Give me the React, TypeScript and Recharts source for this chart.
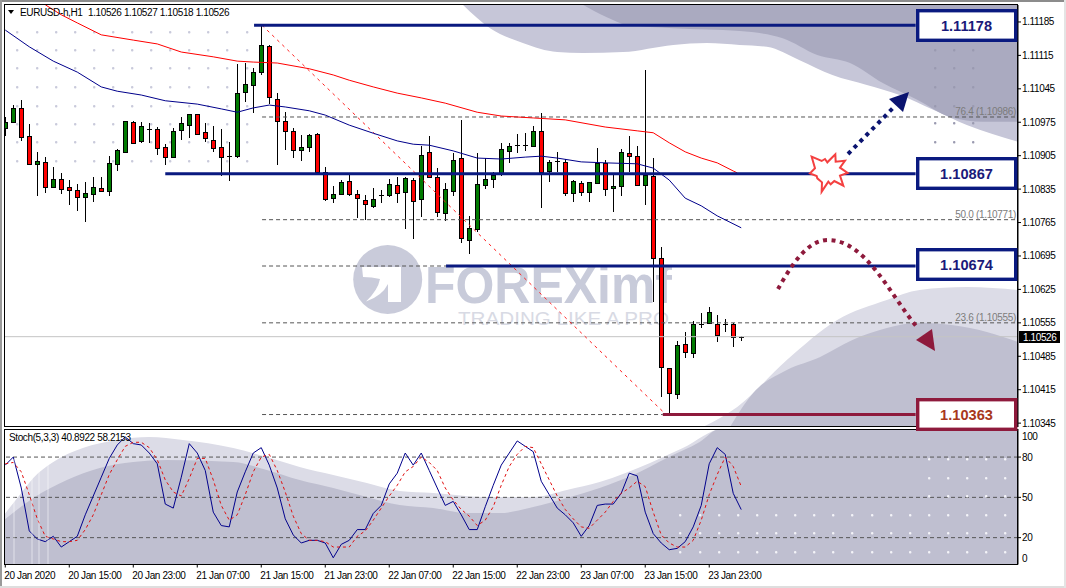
import { Area, Bar, ComposedChart, Line, ReferenceLine, XAxis, YAxis } from 'recharts';

const OPENS = [1.10963, 1.10976, 1.11005, 1.10946, 1.10888, 1.10892, 1.10839, 1.10856, 1.10839, 1.10833, 1.10818, 1.10825, 1.10837, 1.10831, 1.10888, 1.10913, 1.10976, 1.10936, 1.10959, 1.10961, 1.10923, 1.10902, 1.10959, 1.10969, 1.10992, 1.10955, 1.10938, 1.10923, 1.10902, 1.10904, 1.11038, 1.11053, 1.1108, 1.11135, 1.11024, 1.10978, 1.10957, 1.10917, 1.10923, 1.1095, 1.10871, 1.10816, 1.10825, 1.10852, 1.10825, 1.10812, 1.108, 1.10821, 1.10823, 1.10844, 1.10829, 1.10854, 1.10814, 1.10913, 1.1086, 1.10785, 1.10831, 1.109, 1.10728, 1.10751, 1.10844, 1.10856, 1.10867, 1.10915, 1.10925, 1.10925, 1.10925, 1.10957, 1.10873, 1.10892, 1.10892, 1.10827, 1.10848, 1.10829, 1.10848, 1.1089, 1.10837, 1.10842, 1.10911, 1.10904, 1.10844, 1.10862, 1.10691, 1.1046, 1.10406, 1.10511, 1.10492, 1.1055, 1.10555, 1.10553, 1.1055, 1.10553, 1.10526];
const HIGHS = [1.10986, 1.11011, 1.11022, 1.10971, 1.10913, 1.10902, 1.10881, 1.10869, 1.10854, 1.10846, 1.1085, 1.1086, 1.1086, 1.10904, 1.10919, 1.10978, 1.10978, 1.10976, 1.10973, 1.10965, 1.10929, 1.10963, 1.10986, 1.10992, 1.10992, 1.10973, 1.10967, 1.10961, 1.10934, 1.11097, 1.11099, 1.11089, 1.11177, 1.11137, 1.11036, 1.10996, 1.10963, 1.10948, 1.1095, 1.10953, 1.10881, 1.10842, 1.10854, 1.10865, 1.10833, 1.10823, 1.10837, 1.10833, 1.10856, 1.1086, 1.1086, 1.10858, 1.10925, 1.10946, 1.10879, 1.10848, 1.10911, 1.1098, 1.10779, 1.10911, 1.109, 1.10871, 1.10932, 1.10932, 1.1095, 1.10953, 1.10967, 1.10994, 1.10896, 1.10913, 1.10898, 1.10854, 1.10852, 1.1085, 1.10921, 1.10896, 1.10867, 1.10919, 1.10946, 1.10925, 1.11084, 1.109, 1.10714, 1.1046, 1.10517, 1.10536, 1.10559, 1.10576, 1.10588, 1.10571, 1.10563, 1.10555, 1.10527];
const LOWS = [1.10946, 1.10973, 1.10936, 1.10885, 1.10821, 1.10827, 1.10839, 1.10825, 1.10802, 1.10789, 1.10766, 1.10808, 1.10829, 1.10821, 1.10873, 1.10911, 1.10932, 1.10932, 1.10932, 1.10906, 1.10885, 1.10902, 1.10938, 1.10942, 1.10948, 1.10934, 1.10913, 1.10862, 1.10852, 1.109, 1.11017, 1.10994, 1.11074, 1.11013, 1.10885, 1.10917, 1.109, 1.10894, 1.10913, 1.10869, 1.1081, 1.10806, 1.10823, 1.10821, 1.10775, 1.1077, 1.10795, 1.10806, 1.10818, 1.10806, 1.10751, 1.10731, 1.10777, 1.10858, 1.10777, 1.10768, 1.10821, 1.10722, 1.10699, 1.10745, 1.10835, 1.10837, 1.10862, 1.1089, 1.10911, 1.10915, 1.10925, 1.10795, 1.1085, 1.10871, 1.10821, 1.10808, 1.10821, 1.10808, 1.10848, 1.10821, 1.10787, 1.10821, 1.10871, 1.10842, 1.10802, 1.10599, 1.104, 1.10363, 1.10395, 1.10481, 1.10481, 1.10544, 1.10553, 1.10515, 1.10536, 1.10504, 1.10518];
const CLOSES = [1.10976, 1.11005, 1.10944, 1.10888, 1.10894, 1.10839, 1.10856, 1.10835, 1.10833, 1.10818, 1.10827, 1.10839, 1.10831, 1.1089, 1.10917, 1.10978, 1.10932, 1.10967, 1.10961, 1.10921, 1.10902, 1.10957, 1.10973, 1.10992, 1.1095, 1.10942, 1.10921, 1.10902, 1.10904, 1.11036, 1.11055, 1.1108, 1.11137, 1.11028, 1.10978, 1.10957, 1.10917, 1.10923, 1.10948, 1.10871, 1.10814, 1.10825, 1.1085, 1.10825, 1.10816, 1.10804, 1.10814, 1.10823, 1.10846, 1.10827, 1.10858, 1.1081, 1.10906, 1.1086, 1.10787, 1.10835, 1.10896, 1.10733, 1.10754, 1.10846, 1.10856, 1.10865, 1.10919, 1.10925, 1.10927, 1.10927, 1.10957, 1.10871, 1.10892, 1.10894, 1.10827, 1.10852, 1.10829, 1.1085, 1.1089, 1.10835, 1.10842, 1.10913, 1.10904, 1.10844, 1.10865, 1.10691, 1.10463, 1.10408, 1.10509, 1.10494, 1.10553, 1.10553, 1.10578, 1.1053, 1.10553, 1.10525, 1.10526];

const STOCH_K = [74, 80, 57, 25, 19, 17, 21, 13, 17, 21, 37, 51, 65, 79, 89, 95, 90, 89, 83, 75, 45, 42, 65, 90, 83, 70, 39, 29, 28, 54, 69, 83, 87, 74, 57, 34, 22, 16, 18, 18, 16, 5, 15, 18, 26, 26, 38, 44, 60, 68, 83, 74, 83, 70, 57, 44, 47, 37, 26, 26, 43, 59, 74, 83, 92, 88, 84, 62, 52, 42, 37, 31, 21, 29, 44, 45, 45, 53, 68, 66, 39, 23, 16, 11, 12, 17, 28, 44, 75, 87, 82, 53, 40.89];
const STOCH_D = [75, 76, 69, 52, 34, 21, 19, 17, 17, 18, 26, 37, 52, 67, 78, 88, 91, 91, 87, 78, 63, 54, 51, 64, 79, 79, 63, 44, 33, 37, 52, 69, 80, 82, 70, 54, 36, 23, 18, 18, 17, 13, 13, 13, 21, 25, 33, 42, 51, 59, 69, 73, 80, 76, 70, 57, 48, 41, 36, 29, 33, 43, 59, 73, 82, 88, 87, 75, 63, 51, 41, 34, 28, 27, 33, 39, 47, 53, 57, 62, 58, 39, 22, 16, 13, 13, 18, 33, 52, 67, 80, 73, 58.22];

// moving averages, read where the line bends
const MA_BLUE_INDEX = [0, 3, 6, 9, 12, 14, 17, 20, 24, 27, 29, 31, 33, 35, 38, 40, 43, 46, 49, 51, 53, 56, 59, 62, 65, 67, 69, 72, 75, 79, 81, 83, 85, 87, 89, 92];
const MA_BLUE = [1.11168, 1.11133, 1.11103, 1.1108, 1.11049, 1.1104, 1.11032, 1.1102, 1.11013, 1.11003, 1.10996, 1.11005, 1.11011, 1.11007, 1.10999, 1.1099, 1.10969, 1.10952, 1.10936, 1.10929, 1.10927, 1.10915, 1.109, 1.10898, 1.10902, 1.10904, 1.109, 1.10892, 1.1089, 1.10888, 1.10879, 1.10854, 1.10816, 1.108, 1.10779, 1.10754];
const MA_RED_INDEX = [5, 7, 9, 12, 16, 19, 22, 26, 29, 31, 34, 38, 41, 43, 46, 49, 52, 55, 59, 62, 66, 70, 75, 79, 81, 83, 85, 87, 89, 91, 91.5];
const MA_RED = [1.11221, 1.112, 1.11183, 1.11158, 1.11147, 1.11139, 1.11122, 1.11112, 1.11103, 1.11101, 1.11099, 1.11087, 1.11074, 1.11063, 1.11049, 1.11036, 1.11026, 1.11015, 1.10996, 1.10988, 1.10984, 1.1098, 1.10965, 1.10957, 1.10953, 1.10932, 1.10913, 1.109, 1.1089, 1.10873, 1.10869];

// background swooshes of the template
const TOP_LIGHT_INDEX = [57.2, 60.6, 64.7, 69, 72.2, 77.2, 83.5, 87.7, 91.8, 95.2, 99.3, 103.4, 107.7, 111.8, 116, 120.2, 126.6];
const TOP_LIGHT = [1.11221, 1.11172, 1.11141, 1.11122, 1.1112, 1.11122, 1.11137, 1.11141, 1.11137, 1.11133, 1.11105, 1.11074, 1.11053, 1.11032, 1.11001, 1.10969, 1.10934];
const TOP_DARK_INDEX = [72.2, 75.2, 77.7, 83.5, 91.8, 97.2, 101.5, 105.6, 109.7, 114, 118.1, 122.2, 126.6];
const TOP_DARK = [1.11221, 1.11195, 1.11179, 1.11172, 1.11166, 1.11151, 1.11116, 1.11099, 1.11057, 1.11022, 1.10986, 1.10976, 1.10976];
const LOW_LIGHT_INDEX = [87.2, 91.5, 97.7, 104, 110.2, 114.3, 120.2, 126.6];
const LOW_LIGHT = [1.10337, 1.10379, 1.10477, 1.10561, 1.10603, 1.10624, 1.1063, 1.10624];
const LOW_DARK_INDEX = [90.6, 93.5, 97.7, 101.8, 105.9, 110.2, 114.3, 118.5, 122.7, 126.6];
const LOW_DARK = [1.10337, 1.10408, 1.10456, 1.10483, 1.10519, 1.10544, 1.10555, 1.1055, 1.10536, 1.10515];
const STOCH_LIGHT_INDEX = [-0.16, 1.8, 3.5, 6, 9.7, 14, 18, 22.2, 28.5, 32.7, 36.8, 41, 45.2, 49.3, 53.5, 59.7, 66, 70.2, 74.3, 80.6, 84.7, 89.7, 126.6];
const STOCH_LIGHT = [36.9, 51.8, 64.4, 76.3, 86.7, 92.7, 94.9, 92.7, 86.7, 80, 72.6, 66.6, 60.7, 54.7, 53.2, 50.3, 50.3, 55.5, 61.4, 75.6, 86.7, 100.9, 100.9];
const STOCH_DARK_INDEX = [-0.16, 3.5, 7.7, 11.8, 16, 20.2, 28.5, 32.7, 36.8, 41, 45.2, 49.3, 53.5, 57.7, 61.8, 66, 70.2, 74.3, 78.5, 82.7, 86.8, 89.3, 126.6];
const STOCH_DARK = [33.1, 49.5, 62.9, 71.9, 76.3, 77.8, 76.3, 70.4, 62.9, 57, 50.3, 44.3, 42.1, 38.3, 38.3, 42.8, 49.5, 57, 66.6, 79.3, 91.2, 100.9, 100.9];

const PRICE_TICKS = [1.11185, 1.11115, 1.11045, 1.10975, 1.10905, 1.10835, 1.10765, 1.10695, 1.10625, 1.10555, 1.10485, 1.10415, 1.10345];
const STOCH_TICKS = [0, 20, 50, 80, 100];
const TIME_INDEX = [0, 8, 16, 24, 32, 40, 48, 56, 64, 72, 80, 88];
const TIME_LABELS = ['20 Jan 2020', '20 Jan 15:00', '20 Jan 23:00', '21 Jan 07:00', '21 Jan 15:00', '21 Jan 23:00', '22 Jan 07:00', '22 Jan 15:00', '22 Jan 23:00', '23 Jan 07:00', '23 Jan 15:00', '23 Jan 23:00'];

const FONT = '"Liberation Sans", Arial, sans-serif';
const TIGHT = -0.38;
const NAVY = '#0a1a80';
const MAROON = '#8e1a3c';
const X_DOMAIN = [-0.16, 126.6];

const candles = OPENS.map((o, i) => ({ i, o, h: HIGHS[i], l: LOWS[i], c: CLOSES[i], range: [LOWS[i], HIGHS[i]] }));
const stoch = STOCH_K.map((k, i) => ({ i, k, d: STOCH_D[i] }));
const pairs = (idx: number[], vals: number[]) => idx.map((i, n) => ({ i, v: vals[n] }));
const PRICE_TOP = 1.112205;
const PRICE_BOTTOM = 1.103369;
const topBand = (idx: number[], vals: number[]) => idx.map((i, n) => ({ i, v: [vals[n], PRICE_TOP] }));

function Candle(props: any) {
  const { x, y, width, height, payload } = props;
  const { o, h, l, c } = payload;
  const cx = Math.floor(x + width / 2);
  const py = (p: number) => y + ((h - p) / (h - l)) * height;
  const top = Math.round(py(Math.max(o, c)));
  const bottom = Math.round(py(Math.min(o, c)));
  const doji = bottom - top < 2;
  return (
    <g shapeRendering="crispEdges">
      <rect x={cx} y={y} width={1} height={height} fill="#000" />
      {doji ? (
        <rect x={cx - 2} y={top} width={5} height={1} fill="#000" />
      ) : (
        <rect x={cx - 1.5} y={top + 0.5} width={4} height={bottom - top} fill={c > o ? '#007a00' : '#ff0000'} stroke="#000" />
      )}
    </g>
  );
}

function PriceTick({ x, y, payload }: any) {
  return (
    <g>
      <line x1={x - 6} x2={x - 3} y1={y} y2={y} stroke="#000" />
      <text x={x - 2} y={y + 3.5} fontSize={10} letterSpacing={TIGHT} fontFamily={FONT} fill="#000">{payload.value.toFixed(5)}</text>
    </g>
  );
}

function StochTick({ x, y, payload }: any) {
  const v = payload.value;
  const shift = v === 100 ? 6 : v === 0 ? -6 : 0;
  return (
    <g>
      {v !== 100 && v !== 0 && <line x1={x - 6} x2={x - 3} y1={y} y2={y} stroke="#000" />}
      <text x={x - 2} y={y + shift + 3.5} fontSize={10} letterSpacing={TIGHT} fontFamily={FONT} fill="#000">{v}</text>
    </g>
  );
}

function TimeTick({ x, y, payload }: any) {
  const n = TIME_INDEX.indexOf(payload.value);
  return (
    <g>
      <line x1={x} x2={x} y1={y - 8} y2={y - 5} stroke="#000" />
      <text x={x - 1} y={y + 6} fontSize={10} letterSpacing={TIGHT} fontFamily={FONT} fill="#000">{TIME_LABELS[n]}</text>
    </g>
  );
}

// grey template dots
const DOT_COLS_LEFT = [17, 37, 56, 75, 94, 113, 132, 151, 170, 189, 208, 227, 247];
const DOT_ROWS_LEFT = [32, 50, 68, 87, 106, 124, 142, 161];
const DOT_COLS_TOPRIGHT = [935, 954, 973];
const DOT_ROWS_TOPRIGHT = [50, 68, 87, 106, 123, 142];
const DOT_COLS_STOCH_LOW = [680, 700, 719, 738, 757, 776, 795, 814, 833, 852, 872, 891, 910, 929, 948, 967, 986, 1005];
const DOT_ROWS_STOCH_LOW = [515, 533, 552];
const DOT_COLS_STOCH_HIGH = [929, 948, 967, 986, 1005];
const DOT_ROWS_STOCH_HIGH = [459, 478, 496];

function Dots({ cols, rows, fill }: { cols: number[]; rows: number[]; fill: string }) {
  return (
    <g>
      {rows.map(r => cols.map(c => <rect key={`${r}-${c}`} x={c - 1} y={r - 1} width={2.4} height={2.4} rx={1} fill={fill} />))}
    </g>
  );
}

function Box({ y, value, color, text }: { y: number; value: string; color: string; text: string }) {
  return (
    <g>
      <rect x={917.7} y={y + 1.7} width={98} height={29.6} fill="#fff" stroke={color} strokeWidth={3.4} />
      <text x={966.5} y={y + 21.5} textAnchor="middle" fontSize={14.6} fontWeight="bold" fontFamily={FONT} fill={text}>{value}</text>
    </g>
  );
}

export default function App() {
  return (
    <div style={{ position: 'absolute', left: 0, top: 0, width: 1066, height: 588, background: '#fff', overflow: 'hidden' }}>
      {/* watermark under the charts */}
      <svg width={1066} height={588} style={{ position: 'absolute', left: 0, top: 0 }}>
        <Dots cols={DOT_COLS_LEFT} rows={DOT_ROWS_LEFT} fill="#c9cadb" />
        <circle cx={387.7} cy={279.5} r={34.5} fill="#c9cbda" />
        <path d="M362 267 H401 V302 H388 V284 Q382 296 366 301.5 Q378 290 380 279 Q372 277 363 277 Z" fill="#fff" />
        <text x={425} y={303} fontSize={51} fontWeight="bold" fontFamily={FONT} fill="#c8cbda" textLength={247} lengthAdjust="spacingAndGlyphs">FOREXimf</text>
        <text x={458} y={325} fontSize={19} fontFamily={FONT} fill="#d8dae4" textLength={211} lengthAdjust="spacingAndGlyphs">TRADING LIKE A PRO</text>
      </svg>

      <div style={{ position: 'absolute', left: 0, top: 0 }}>
        <ComposedChart width={1066} height={440} data={candles} margin={{ top: 5, right: 0, bottom: 13, left: 4 }}>
          <XAxis dataKey="i" type="number" domain={X_DOMAIN} allowDataOverflow hide />
          <YAxis orientation="right" width={48} domain={[PRICE_BOTTOM, PRICE_TOP]} allowDataOverflow ticks={PRICE_TICKS} interval={0} axisLine tickLine={false} stroke="#000" tick={PriceTick} tickSize={6} tickMargin={0} />
          <Area data={topBand(TOP_LIGHT_INDEX, TOP_LIGHT)} dataKey="v" type="monotone" stroke="none" fill="#c6c6d8" fillOpacity={1} isAnimationActive={false} />
          <Area data={topBand(TOP_DARK_INDEX, TOP_DARK)} dataKey="v" type="monotone" stroke="none" fill="#aaaac0" fillOpacity={1} isAnimationActive={false} />
          <Area data={pairs(LOW_LIGHT_INDEX, LOW_LIGHT)} dataKey="v" type="monotone" stroke="none" fill="#dcdce7" fillOpacity={1} baseValue={PRICE_BOTTOM} isAnimationActive={false} />
          <Area data={pairs(LOW_DARK_INDEX, LOW_DARK)} dataKey="v" type="monotone" stroke="none" fill="#bfbfd0" fillOpacity={1} baseValue={PRICE_BOTTOM} isAnimationActive={false} />

          <ReferenceLine y={1.10526} stroke="#c4c4c4" />
          {[1.10986, 1.10771, 1.10674, 1.10555, 1.10363].map(p => (
            <ReferenceLine key={p} segment={[{ x: 32.1, y: p }, { x: 126.6, y: p }].map((s, n) => (p === 1.10363 && n === 1 ? { ...s, x: 82.2 } : p === 1.10674 && n === 1 ? { ...s, x: 55.1 } : s))} stroke="#555" strokeDasharray="4 3" />
          ))}
          <ReferenceLine segment={[{ x: 32.1, y: 1.11178 }, { x: 82.6, y: 1.10363 }]} stroke="#ff2020" strokeDasharray="3 4" />

          <Bar dataKey="range" barSize={5} shape={Candle} isAnimationActive={false} />
          <Line data={pairs(MA_BLUE_INDEX, MA_BLUE)} dataKey="v" type="linear" stroke="#00008b" strokeWidth={1} dot={false} isAnimationActive={false} />
          <Line data={pairs(MA_RED_INDEX, MA_RED)} dataKey="v" type="linear" stroke="#ff0000" strokeWidth={1} dot={false} isAnimationActive={false} />

          <ReferenceLine segment={[{ x: 31.1, y: 1.11178 }, { x: 113.8, y: 1.11178 }]} stroke={NAVY} strokeWidth={3} />
          <ReferenceLine segment={[{ x: 20, y: 1.10867 }, { x: 113.8, y: 1.10867 }]} stroke={NAVY} strokeWidth={3} />
          <ReferenceLine segment={[{ x: 55.1, y: 1.10674 }, { x: 113.8, y: 1.10674 }]} stroke={NAVY} strokeWidth={3} />
          <ReferenceLine segment={[{ x: 82.2, y: 1.10363 }, { x: 113.8, y: 1.10363 }]} stroke={MAROON} strokeWidth={3} />
        </ComposedChart>
      </div>

      <div style={{ position: 'absolute', left: 0, top: 0 }}>
        <ComposedChart width={1066} height={588} data={stoch} margin={{ top: 429, right: 0, bottom: 0, left: 4 }}>
          <XAxis dataKey="i" type="number" domain={X_DOMAIN} allowDataOverflow ticks={TIME_INDEX} interval={0} height={23.5} axisLine={false} tickLine={false} tick={TimeTick} tickMargin={0} tickSize={8} />
          <YAxis orientation="right" width={48} domain={[0, 100.9]} allowDataOverflow ticks={STOCH_TICKS} interval={0} axisLine tickLine={false} stroke="#000" tick={StochTick} tickSize={6} tickMargin={0} />
          <Area data={pairs(STOCH_LIGHT_INDEX, STOCH_LIGHT)} dataKey="v" type="monotone" stroke="none" fill="#dcdce7" fillOpacity={1} isAnimationActive={false} />
          <Area data={pairs(STOCH_DARK_INDEX, STOCH_DARK)} dataKey="v" type="monotone" stroke="none" fill="#bfbfd0" fillOpacity={1} isAnimationActive={false} />
          <ReferenceLine y={80} stroke="#555" strokeDasharray="4 3" />
          <ReferenceLine y={50} stroke="#555" strokeDasharray="4 3" />
          <ReferenceLine y={20} stroke="#555" strokeDasharray="4 3" />
          <Line dataKey="k" type="linear" stroke="#00008b" strokeWidth={1} dot={false} isAnimationActive={false} />
          <Line dataKey="d" type="linear" stroke="#e01010" strokeWidth={1} strokeDasharray="3 3" dot={false} isAnimationActive={false} />
        </ComposedChart>
      </div>

      {/* frame, annotations and labels */}
      <svg width={1066} height={588} style={{ position: 'absolute', left: 0, top: 0 }}>
        <rect x={0} y={0} width={1066} height={2} fill="#8c8c8c" />
        <rect x={0} y={0} width={2} height={588} fill="#9a9a9a" />
        <rect x={0} y={586} width={1066} height={2} fill="#dedede" />
        <rect x={1064} y={0} width={2} height={588} fill="#e4e4e4" />
        <g shapeRendering="crispEdges" fill="none" stroke="#000">
          <rect x={4.5} y={4.5} width={1013} height={422} />
          <rect x={4.5} y={429.5} width={1013} height={135} />
        </g>
        <g stroke="#fff" strokeOpacity={0.55}>
          {[14, 32, 39, 48].map(x => <line key={x} x1={x} x2={x} y1={459} y2={564} />)}
        </g>
        <Dots cols={DOT_COLS_TOPRIGHT} rows={DOT_ROWS_TOPRIGHT} fill="#9a9ab0" />
        <Dots cols={DOT_COLS_STOCH_LOW} rows={DOT_ROWS_STOCH_LOW} fill="#f4f4f8" />
        <Dots cols={DOT_COLS_STOCH_HIGH} rows={DOT_ROWS_STOCH_HIGH} fill="#f4f4f8" />

        <path d="M8 10 H14 L11 14 Z" fill="#000" />
        <text x={20} y={16} fontSize={10} letterSpacing={TIGHT} fontFamily={FONT} fill="#000">EURUSD-h,H1</text>
        <text x={88} y={16} fontSize={10} letterSpacing={TIGHT} fontFamily={FONT} fill="#000">1.10526 1.10527 1.10518 1.10526</text>
        <text x={9} y={441} fontSize={10} letterSpacing={TIGHT} fontFamily={FONT} fill="#000">Stoch(5,3,3) 40.8922 58.2153</text>

        <g fontSize={10} letterSpacing={-0.3} fontFamily={FONT} fill="#7c7c7c" textAnchor="end">
          <text x={1016} y={115}>76.4 (1.10986)</text>
          <text x={1016} y={218}>50.0 (1.10771)</text>
          <text x={1016} y={321}>23.6 (1.10555)</text>
        </g>

        <Box y={9} value="1.11178" color={NAVY} text="#1a1a7a" />
        <Box y={157} value="1.10867" color={NAVY} text="#1a1a7a" />
        <Box y={248} value="1.10674" color={NAVY} text="#1a1a7a" />
        <Box y={398} value="1.10363" color={MAROON} text="#a8381c" />

        <rect x={1019} y={331} width={41} height={12} fill="#000" />
        <text x={1023} y={341} fontSize={10} letterSpacing={TIGHT} fontFamily={FONT} fill="#fff">1.10526</text>

        <path d="M848 154 L893 108" fill="none" stroke="#0b1470" strokeWidth={4} strokeDasharray="4 4.5" />
        <polygon points="909,92 889,99 903,112" fill="#0b1470" />
        <path d="M778 289 C790 268 806 240 828 240 C866 240 890 295 917 327" fill="none" stroke={MAROON} strokeWidth={4} strokeDasharray="4 4.5" />
        <polygon points="935,351 916,340 932,329" fill={MAROON} />
        <g transform="translate(800,145) scale(0.3333)">
          <polygon points="35,35 65,48 75,42 82,52 106,28 107,50 135,47 120,68 143,84 120,92 130,122 103,108 92,118 85,110 65,140 66,112 52,100 50,93 30,85 45,70" fill="#fff" stroke="#f44040" strokeWidth={6} />
        </g>
      </svg>
    </div>
  );
}
